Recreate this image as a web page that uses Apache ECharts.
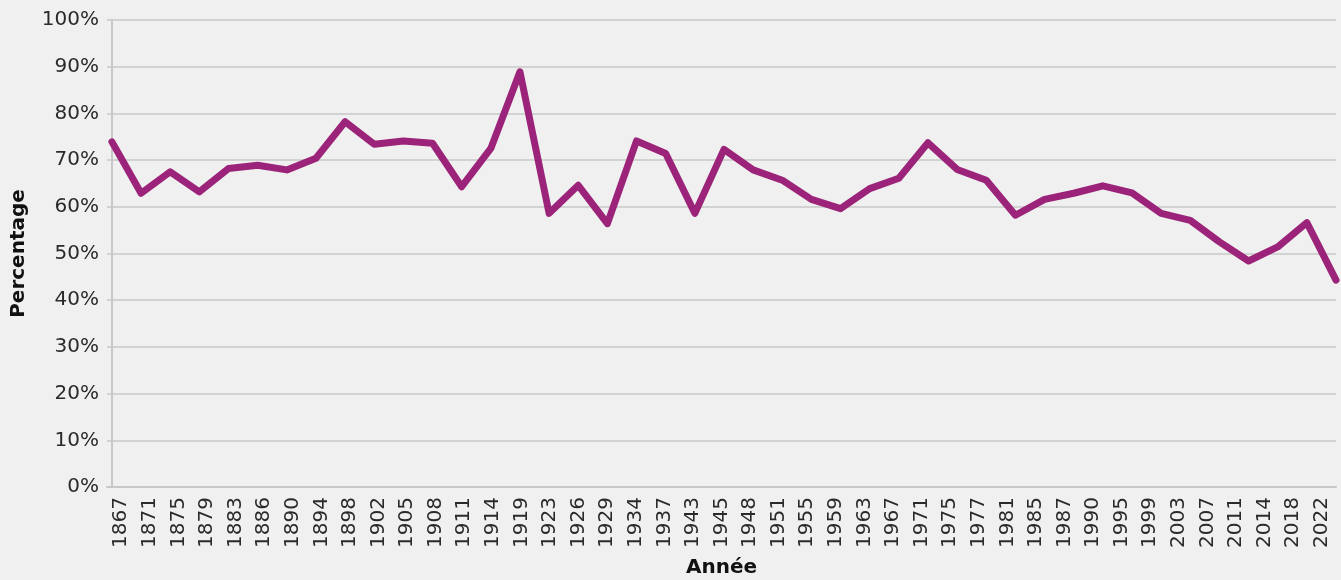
<!DOCTYPE html>
<html>
<head>
<meta charset="utf-8">
<script src="https://cdn.jsdelivr.net/npm/echarts@6/dist/echarts.min.js"></script>
<style>
  html, body { margin: 0; padding: 0; background: #f0f0f0; }
  #chart { width: 1341px; height: 580px; }
</style>
</head>
<body>
<div id="chart"></div>
<script>
// election years (category axis labels)
const years = [
  '1867', '1871', '1875', '1879', '1883', '1886', '1890', '1894', '1898', '1902',
  '1905', '1908', '1911', '1914', '1919', '1923', '1926', '1929', '1934', '1937',
  '1943', '1945', '1948', '1951', '1955', '1959', '1963', '1967', '1971', '1975',
  '1977', '1981', '1985', '1987', '1990', '1995', '1999', '2003', '2007', '2011',
  '2014', '2018', '2022'
]

// percentage per year
const percentages = [
  73.9, 62.9, 67.5, 63.2, 68.2, 68.9, 67.9, 70.4, 78.2, 73.4,
  74.1, 73.6, 64.3, 72.5, 88.9, 58.6, 64.6, 56.4, 74.1, 71.4,
  58.6, 72.3, 67.9, 65.7, 61.6, 59.6, 63.9, 66.1, 73.7, 68.0,
  65.7, 58.2, 61.6, 62.9, 64.5, 63.0, 58.6, 57.1, 52.5, 48.4,
  51.4, 56.6, 44.3
]

const yTicks = [0, 10, 20, 30, 40, 50, 60, 70, 80, 90, 100]

const chart = echarts.init(document.getElementById('chart'))

const textColor = '#2a2a2a'
const lineGrey = '#c8c8c8'
const font = 'DejaVu Sans'

chart.setOption({
  backgroundColor: '#f0f0f0',
  animation: false,
  grid: {
    left: 107,
    right: 5,
    top: 20,
    bottom: 93,
    containLabel: false,
    outerBoundsMode: 'none'
  },
  xAxis: [
    {
      type: 'category',
      data: years,
      boundaryGap: true,
      name: 'Année',
      nameLocation: 'middle',
      nameGap: 71,
      nameMoveOverlap: false,
      nameTextStyle: {
        fontFamily: font,
        fontWeight: 'bold',
        fontSize: 20,
        color: '#111'
      },
      axisLine: { lineStyle: { color: lineGrey, width: 2 } },
      axisTick: {
        alignWithLabel: true,
        inside: true,
        length: 11,
        lineStyle: { color: lineGrey, width: 2 }
      },
      axisLabel: {
        interval: 0,
        rotate: 90,
        margin: 10,
        fontFamily: font,
        fontSize: 20,
        color: textColor
      },
      splitLine: { show: false }
    },
    {
      // hidden positional axis for the line
      type: 'value',
      min: -0.17,
      max: 42,
      show: false
    }
  ],
  yAxis: {
    type: 'value',
    min: yTicks[0],
    max: yTicks[yTicks.length - 1],
    interval: 10,
    name: 'Percentage',
    nameLocation: 'middle',
    nameGap: 78,
    nameMoveOverlap: false,
    nameTextStyle: {
      fontFamily: font,
      fontWeight: 'bold',
      fontSize: 20,
      color: '#111'
    },
    axisLine: { show: true, lineStyle: { color: lineGrey, width: 2 } },
    axisTick: { show: false },
    axisLabel: {
      margin: 8,
      fontFamily: font,
      fontSize: 20,
      color: textColor,
      formatter: '{value}%'
    },
    splitLine: { lineStyle: { color: lineGrey, width: 1.5 } }
  },
  series: [
    {
      type: 'line',
      xAxisIndex: 1,
      data: percentages.map((v, i) => [i, v]),
      showSymbol: false,
      symbol: 'none',
      lineStyle: {
        color: '#9b2379',
        width: 7,
        cap: 'round',
        join: 'round'
      }
    }
  ]
})
</script>
</body>
</html>
